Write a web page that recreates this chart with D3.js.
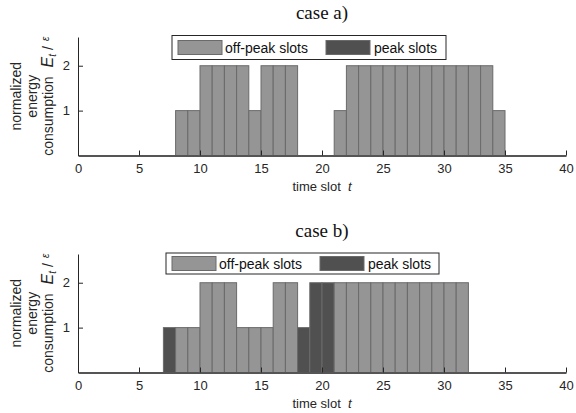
<!DOCTYPE html>
<html><head><meta charset="utf-8">
<script src="https://cdn.jsdelivr.net/npm/d3@7"></script>
<style>body{margin:0;background:#fff}svg{display:block}text{white-space:pre}</style>
</head><body>
<svg id="c" width="576" height="413"></svg>
<script>
// ---- data ----
const xTicks = [0, 5, 10, 15, 20, 25, 30, 35, 40];
const yTicks = [1, 2];
const legendLabels = ["off-peak slots", "peak slots"];
const titles = ["case a)", "case b)"];

// case a) : time slot (left edge), normalized energy, peak flag
const slotsA = [8, 9, 10, 11, 12, 13, 14, 15, 16, 17, 21, 22, 23, 24, 25, 26, 27, 28, 29, 30, 31, 32, 33, 34];
const energyA = [1, 1, 2, 2, 2, 2, 1, 2, 2, 2, 1, 2, 2, 2, 2, 2, 2, 2, 2, 2, 2, 2, 2, 1];
const peakA = [0, 0, 0, 0, 0, 0, 0, 0, 0, 0, 0, 0, 0, 0, 0, 0, 0, 0, 0, 0, 0, 0, 0, 0];

// case b)
const slotsB = [7, 8, 9, 10, 11, 12, 13, 14, 15, 16, 17, 18, 19, 20, 21, 22, 23, 24, 25, 26, 27, 28, 29, 30, 31];
const energyB = [1, 1, 1, 2, 2, 2, 1, 1, 1, 2, 2, 1, 2, 2, 2, 2, 2, 2, 2, 2, 2, 2, 2, 2, 2];
const peakB = [1, 0, 0, 0, 0, 0, 0, 0, 0, 0, 0, 1, 1, 1, 0, 0, 0, 0, 0, 0, 0, 0, 0, 0, 0];

const colors = {off: "#959595", peak: "#505050", edge: "#6a6a6a"};
const svg = d3.select("#c");
const sans = "Liberation Sans, Arial, Helvetica, sans-serif";

const panels = [
  {slots: slotsA, energy: energyA, peak: peakA, title: titles[0], top: 37, base: 155.5, titleY: 19,
   legend: {x: 172, y: 35.5, w: 274, h: 24}},
  {slots: slotsB, energy: energyB, peak: peakB, title: titles[1], top: 254, base: 372.5, titleY: 237,
   legend: {x: 166, y: 253, w: 273, h: 21}}
];

panels.forEach(p => {
  const x = d3.scaleLinear().domain([0, 40]).range([78, 566]);
  const y = d3.scaleLinear().domain([0, 2.64]).range([p.base, p.top]);
  const g = svg.append("g");

  // title
  g.append("text").attr("x", 322).attr("y", p.titleY).attr("text-anchor", "middle")
    .attr("font-family", "Liberation Serif, Times New Roman, serif").attr("font-size", 19)
    .attr("fill", "#111").text(p.title);

  // bars
  const data = p.slots.map((t, i) => ({t, e: p.energy[i], pk: p.peak[i]}));
  g.selectAll("rect.bar").data(data).join("rect").attr("class", "bar")
    .attr("x", d => x(d.t)).attr("width", d => x(d.t + 1) - x(d.t))
    .attr("y", d => y(d.e)).attr("height", d => y(0) - y(d.e))
    .attr("fill", d => d.pk ? colors.peak : colors.off)
    .attr("stroke", colors.edge).attr("stroke-width", 1);

  // x axis
  const xa = g.append("g").attr("transform", `translate(0,${p.base})`)
    .call(d3.axisBottom(x).tickValues(xTicks).tickFormat(d3.format("d")).tickSizeInner(-5).tickSizeOuter(0).tickPadding(8));
  xa.select(".domain").attr("stroke", "#555").attr("stroke-width", 2);
  xa.selectAll(".tick line").attr("stroke", "#262626");
  xa.selectAll(".tick text").attr("font-family", sans).attr("font-size", 13).attr("fill", "#262626");

  // y axis
  const ya = g.append("g").attr("transform", `translate(78,0)`)
    .call(d3.axisLeft(y).tickValues(yTicks).tickFormat(d3.format("d")).tickSizeInner(-5).tickSizeOuter(0).tickPadding(8));
  ya.select(".domain").attr("stroke", "#262626").attr("stroke-width", 1);
  ya.selectAll(".tick line").attr("stroke", "#262626");
  ya.selectAll(".tick text").attr("font-family", sans).attr("font-size", 13).attr("fill", "#262626");

  // x label
  const xl = g.append("text").attr("x", 322).attr("y", p.base + 35).attr("text-anchor", "middle")
    .attr("font-family", sans).attr("font-size", 13).attr("fill", "#262626");
  xl.append("tspan").text("time slot  ");
  xl.append("tspan").attr("font-style", "italic").text("t");

  // y label
  const cy = (p.top + p.base) / 2;
  const yl = g.append("g").attr("transform", `translate(0,${cy}) rotate(-90)`)
    .attr("font-family", sans).attr("font-size", 14).attr("fill", "#262626").attr("text-anchor", "middle");
  yl.append("text").attr("x", 0).attr("y", 21).text("normalized");
  yl.append("text").attr("x", 0).attr("y", 37).text("energy");
  const l3 = yl.append("text").attr("x", 0).attr("y", 53);
  l3.append("tspan").text("consumption");
  l3.append("tspan").attr("dx", 9).attr("font-style", "italic").attr("font-size", 16).text("E");
  l3.append("tspan").attr("font-style", "italic").attr("font-size", 10).attr("dy", 3).text("t");
  l3.append("tspan").attr("font-size", 14).attr("dx", 4).attr("dy", -3).text("/");
  l3.append("tspan").attr("font-style", "italic").attr("font-size", 10).attr("dx", 5).attr("dy", -4).text("ε");

  // legend
  const L = p.legend;
  const lg = g.append("g");
  lg.append("rect").attr("x", L.x).attr("y", L.y).attr("width", L.w).attr("height", L.h)
    .attr("fill", "#fff").attr("stroke", "#262626").attr("stroke-width", 1);
  const items = [
    {label: legendLabels[0], fill: colors.off, sx: L.x + 6, tx: L.x + 53},
    {label: legendLabels[1], fill: colors.peak, sx: L.x + 154, tx: L.x + 202}
  ];
  items.forEach(it => {
    lg.append("rect").attr("x", it.sx).attr("y", L.y + L.h / 2 - 7).attr("width", 44).attr("height", 14)
      .attr("fill", it.fill).attr("stroke", colors.edge).attr("stroke-width", 1);
    lg.append("text").attr("x", it.tx).attr("y", L.y + L.h / 2 + 5)
      .attr("font-family", sans).attr("font-size", 14).attr("fill", "#111").text(it.label);
  });
});
</script>
</body></html>
